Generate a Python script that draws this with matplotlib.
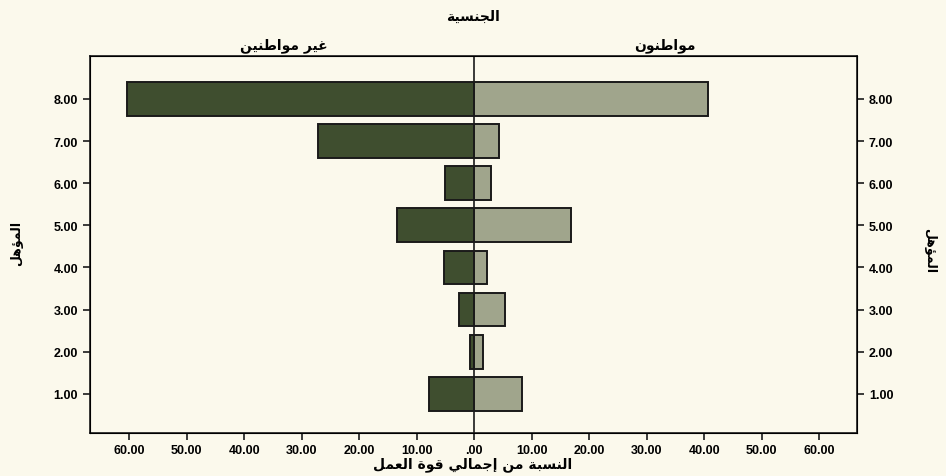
import matplotlib
matplotlib.use("Agg")
import matplotlib.pyplot as plt
import numpy as np

# ===== DATA =====
levels = [1, 2, 3, 4, 5, 6, 7, 8]
level_labels = ["1.00", "2.00", "3.00", "4.00", "5.00", "6.00", "7.00", "8.00"]
non_citizens = [7.8, 0.7, 2.6, 5.2, 13.4, 5.0, 27.1, 60.4]   # left side
citizens = [8.3, 1.6, 5.4, 2.3, 16.9, 3.0, 4.4, 40.6]        # right side
x_ticks = [-60, -50, -40, -30, -20, -10, 0, 10, 20, 30, 40, 50, 60]
x_tick_labels = ["60.00", "50.00", "40.00", "30.00", "20.00", "10.00", ".00",
                 "10.00", "20.00", "30.00", "40.00", "50.00", "60.00"]

title_txt = "الجنسية"
left_txt = "غير مواطنين"
right_txt = "مواطنون"
xlabel_txt = "النسبة من إجمالي قوة العمل"
ylabel_txt = "المؤهل"

# ===== simple arabic shaping (matplotlib has no bidi/shaping) =====
FORMS = {  # isolated, final, initial, medial
    "ا": ("\uFE8D", "\uFE8E", None, None),
    "إ": ("\uFE87", "\uFE88", None, None),
    "ة": ("\uFE93", "\uFE94", None, None),
    "ر": ("\uFEAD", "\uFEAE", None, None),
    "و": ("\uFEED", "\uFEEE", None, None),
    "ؤ": ("\uFE85", "\uFE86", None, None),
    "ل": ("\uFEDD", "\uFEDE", "\uFEDF", "\uFEE0"),
    "ج": ("\uFE9D", "\uFE9E", "\uFE9F", "\uFEA0"),
    "ن": ("\uFEE5", "\uFEE6", "\uFEE7", "\uFEE8"),
    "س": ("\uFEB1", "\uFEB2", "\uFEB3", "\uFEB4"),
    "ي": ("\uFEF1", "\uFEF2", "\uFEF3", "\uFEF4"),
    "غ": ("\uFECD", "\uFECE", "\uFECF", "\uFED0"),
    "م": ("\uFEE1", "\uFEE2", "\uFEE3", "\uFEE4"),
    "ط": ("\uFEC1", "\uFEC2", "\uFEC3", "\uFEC4"),
    "ه": ("\uFEE9", "\uFEEA", "\uFEEB", "\uFEEC"),
    "ب": ("\uFE8F", "\uFE90", "\uFE91", "\uFE92"),
    "ق": ("\uFED5", "\uFED6", "\uFED7", "\uFED8"),
    "ع": ("\uFEC9", "\uFECA", "\uFECB", "\uFECC"),
}


def shape(s):
    out = []
    for i, ch in enumerate(s):
        if ch not in FORMS:
            out.append(ch)
            continue
        prev = s[i - 1] if i > 0 else ""
        nxt = s[i + 1] if i + 1 < len(s) else ""
        j_prev = prev in FORMS and FORMS[prev][2] is not None
        j_next = FORMS[ch][2] is not None and nxt in FORMS
        f = FORMS[ch]
        if j_prev and j_next:
            out.append(f[3])
        elif j_prev:
            out.append(f[1])
        elif j_next:
            out.append(f[2])
        else:
            out.append(f[0])
    return "".join(out)[::-1]


# ===== STYLE =====
bg = "#fbf9ec"
dark = "#3f4e2f"
light = "#a0a58c"
plt.rcParams["font.family"] = ["Liberation Sans", "DejaVu Sans"]
plt.rcParams["font.weight"] = "bold"

fig = plt.figure(figsize=(9.46, 4.77), dpi=100, facecolor=bg)
ax = fig.add_axes([0.0951, 0.0901, 0.8110, 0.7904], facecolor=bg)

ax.barh(levels, [-v for v in non_citizens], height=0.8, color=dark,
        edgecolor="#1a1a1a", linewidth=1.4)
ax.barh(levels, citizens, height=0.8, color=light,
        edgecolor="#1a1a1a", linewidth=1.4)
ax.axvline(0, color="#1a1a1a", linewidth=1.2)

ax.set_xlim(-66.8, 66.6)
ax.set_ylim(0.07, 9.02)
ax.set_xticks(x_ticks)
ax.set_xticklabels(x_tick_labels, fontsize=9, fontweight="bold")
ax.set_yticks(levels)
ax.set_yticklabels(level_labels, fontsize=9, fontweight="bold")
ax.tick_params(axis="both", direction="out", length=5, width=1.2, color="#1a1a1a")
ax.tick_params(axis="x", pad=3)
for sp in ax.spines.values():
    sp.set_linewidth(1.2)
    sp.set_color("#1a1a1a")

ax2 = ax.twinx()
ax2.set_ylim(ax.get_ylim())
ax2.set_yticks(levels)
ax2.set_yticklabels(level_labels, fontsize=9, fontweight="bold")
ax2.tick_params(axis="y", direction="out", length=5, width=1.2, color="#1a1a1a")

arabic_font = ["DejaVu Sans"]
fig.text(0.5, 0.965, shape(title_txt), ha="center", va="center",
         fontsize=10, fontweight="bold", family=arabic_font)
fig.text(0.30, 0.905, shape(left_txt), ha="center", va="center",
         fontsize=10, fontweight="bold", family=arabic_font)
fig.text(0.703, 0.905, shape(right_txt), ha="center", va="center",
         fontsize=10, fontweight="bold", family=arabic_font)
fig.text(0.5, 0.025, shape(xlabel_txt), ha="center", va="center",
         fontsize=10, fontweight="bold", family=arabic_font)
fig.text(0.018, 0.49, shape(ylabel_txt), ha="center", va="center",
         rotation=90, fontsize=9, fontweight="bold", family=arabic_font)
fig.text(0.983, 0.475, shape(ylabel_txt), ha="center", va="center",
         rotation=270, fontsize=9, fontweight="bold", family=arabic_font)

fig.savefig("out.png", dpi=100, facecolor=bg)
